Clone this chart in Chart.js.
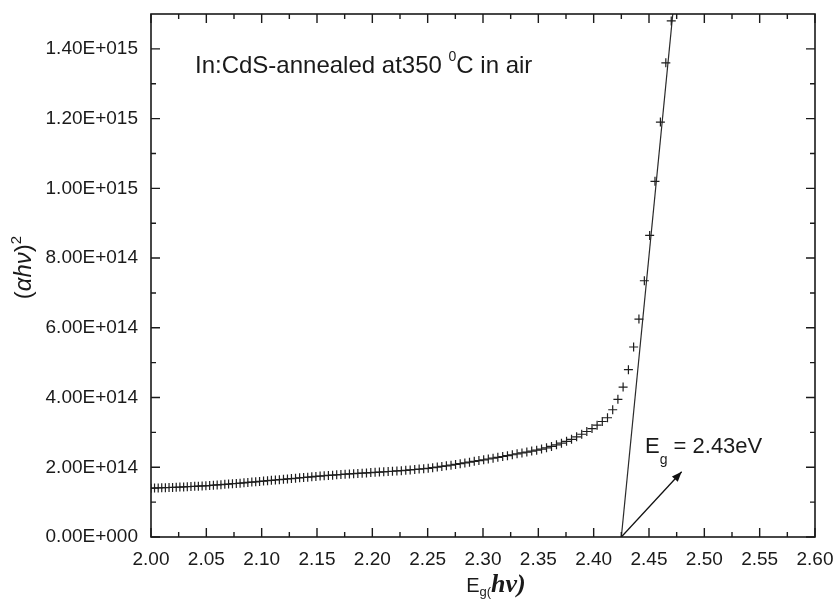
<!DOCTYPE html>
<html>
<head>
<meta charset="utf-8">
<script src="https://cdn.jsdelivr.net/npm/chart.js@4"></script>
<style>
  html, body { margin: 0; padding: 0; background: #fff; }
  canvas { display: block; }
</style>
</head>
<body>
<canvas id="myChart" width="837" height="599"></canvas>
<script>
// photon energy (eV)
var energy = [
  2.0000, 2.0032, 2.0065, 2.0097, 2.0130, 2.0163, 2.0195, 2.0228, 2.0261, 2.0295,
  2.0328, 2.0361, 2.0395, 2.0428, 2.0462, 2.0496, 2.0530, 2.0564, 2.0598, 2.0632,
  2.0667, 2.0701, 2.0736, 2.0771, 2.0805, 2.0840, 2.0875, 2.0911, 2.0946, 2.0981,
  2.1017, 2.1053, 2.1088, 2.1124, 2.1160, 2.1197, 2.1233, 2.1269, 2.1306, 2.1343,
  2.1379, 2.1416, 2.1453, 2.1490, 2.1528, 2.1565, 2.1603, 2.1641, 2.1678, 2.1716,
  2.1754, 2.1793, 2.1831, 2.1869, 2.1908, 2.1947, 2.1986, 2.2025, 2.2064, 2.2103,
  2.2143, 2.2182, 2.2222, 2.2262, 2.2302, 2.2342, 2.2383, 2.2423, 2.2464, 2.2505,
  2.2545, 2.2587, 2.2628, 2.2669, 2.2711, 2.2752, 2.2794, 2.2836, 2.2878, 2.2921,
  2.2963, 2.3006, 2.3048, 2.3091, 2.3134, 2.3178, 2.3221, 2.3265, 2.3308, 2.3352,
  2.3396, 2.3440, 2.3485, 2.3529, 2.3574, 2.3619, 2.3664, 2.3709, 2.3755, 2.3800,
  2.3846, 2.3892, 2.3938, 2.3985, 2.4031, 2.4078, 2.4125, 2.4172, 2.4219, 2.4266,
  2.4314, 2.4361, 2.4409, 2.4458, 2.4506, 2.4554, 2.4603, 2.4652, 2.4701
];

// (alpha h nu)^2, in units of 1E+014
var absorption = [
  1.400, 1.404, 1.408, 1.412, 1.416, 1.419, 1.423, 1.427, 1.432, 1.437,
  1.442, 1.448, 1.453, 1.458, 1.464, 1.469, 1.477, 1.485, 1.494, 1.502,
  1.510, 1.518, 1.529, 1.535, 1.545, 1.555, 1.565, 1.575, 1.583, 1.595,
  1.605, 1.615, 1.625, 1.635, 1.645, 1.655, 1.665, 1.675, 1.685, 1.696,
  1.706, 1.716, 1.727, 1.737, 1.747, 1.756, 1.765, 1.774, 1.783, 1.792,
  1.801, 1.808, 1.816, 1.824, 1.831, 1.839, 1.847, 1.855, 1.863, 1.870,
  1.878, 1.886, 1.894, 1.902, 1.913, 1.924, 1.936, 1.947, 1.958, 1.971,
  1.988, 2.006, 2.024, 2.042, 2.061, 2.081, 2.103, 2.125, 2.147, 2.169,
  2.191, 2.213, 2.237, 2.261, 2.285, 2.309, 2.333, 2.359, 2.385, 2.411,
  2.437, 2.464, 2.491, 2.523, 2.559, 2.598, 2.643, 2.691, 2.745, 2.800,
  2.874, 2.947, 3.026, 3.111, 3.208, 3.312, 3.420, 3.650, 3.950, 4.300,
  4.800, 5.450, 6.250, 7.350, 8.650, 10.20, 11.90, 13.60, 14.80
];

// linear fit of the absorption edge, extrapolated to zero
var fitX = [2.425, 2.4715];
var fitY = [0, 15];

// arrow pointing from the intercept to the label
var arrowX = [2.425, 2.4795];
var arrowY = [0, 1.87];

var xTickValues = [2.00, 2.05, 2.10, 2.15, 2.20, 2.25, 2.30, 2.35, 2.40, 2.45, 2.50, 2.55, 2.60];
var yTickValues = [0, 2, 4, 6, 8, 10, 12, 14];
var yUnit = 1e14;

var sans = '"Liberation Sans", Arial, sans-serif';
var serif = '"Liberation Serif", "Times New Roman", serif';

function toPoints(xs, ys) {
  return xs.map(function (x, i) {
    return { x: x, y: ys[i] };
  });
}

// 1.40E+015 style labels
function sciLabel(v) {
  var parts = (v * yUnit).toExponential(2).toUpperCase().split("E");
  var exp = parseInt(parts[1], 10);
  return parts[0] + "E" + (exp < 0 ? "-" : "+") + String(Math.abs(exp)).padStart(3, "0");
}

function drawPieces(ctx, x, y, pieces) {
  pieces.forEach(function (p) {
    ctx.font = p.font;
    ctx.fillText(p.text, x, y + (p.dy || 0));
    x += ctx.measureText(p.text).width;
  });
}

function piecesWidth(ctx, pieces) {
  return pieces.reduce(function (w, p) {
    ctx.font = p.font;
    return w + ctx.measureText(p.text).width;
  }, 0);
}

// box round the plot with inward ticks on all four sides
var framePlugin = {
  id: "frame",
  afterDraw: function (chart) {
    var ctx = chart.ctx;
    var a = chart.chartArea;
    var xs = chart.scales.x;
    var ys = chart.scales.y;
    ctx.save();
    ctx.strokeStyle = "#1a1a1a";
    ctx.lineWidth = 1.6;
    ctx.strokeRect(a.left, a.top, a.right - a.left, a.bottom - a.top);

    ctx.lineWidth = 1.4;
    ctx.beginPath();
    xTickValues.forEach(function (v, i) {
      var px = xs.getPixelForValue(v);
      ctx.moveTo(px, a.bottom); ctx.lineTo(px, a.bottom - 9);
      ctx.moveTo(px, a.top); ctx.lineTo(px, a.top + 9);
      if (i < xTickValues.length - 1) {
        var mx = xs.getPixelForValue((v + xTickValues[i + 1]) / 2);
        ctx.moveTo(mx, a.bottom); ctx.lineTo(mx, a.bottom - 5);
        ctx.moveTo(mx, a.top); ctx.lineTo(mx, a.top + 5);
      }
    });
    yTickValues.forEach(function (v) {
      var py = ys.getPixelForValue(v);
      ctx.moveTo(a.left, py); ctx.lineTo(a.left + 9, py);
      ctx.moveTo(a.right, py); ctx.lineTo(a.right - 9, py);
      var my = ys.getPixelForValue(v + 1);
      if (my > a.top + 2) {
        ctx.moveTo(a.left, my); ctx.lineTo(a.left + 5, my);
        ctx.moveTo(a.right, my); ctx.lineTo(a.right - 5, my);
      }
    });
    ctx.stroke();
    ctx.restore();
  }
};

// arrowhead at the end of the arrow dataset
var arrowPlugin = {
  id: "arrowHead",
  afterDatasetsDraw: function (chart) {
    var pts = chart.getDatasetMeta(2).data;
    var p0 = pts[0], p1 = pts[1];
    var ang = Math.atan2(p1.y - p0.y, p1.x - p0.x);
    var ctx = chart.ctx;
    ctx.save();
    ctx.translate(p1.x, p1.y);
    ctx.rotate(ang);
    ctx.fillStyle = "#111";
    ctx.beginPath();
    ctx.moveTo(0, 0);
    ctx.lineTo(-10, -4);
    ctx.lineTo(-10, 4);
    ctx.closePath();
    ctx.fill();
    ctx.restore();
  }
};

// sample note, gap label and axis titles
var textPlugin = {
  id: "texts",
  afterDraw: function (chart) {
    var ctx = chart.ctx;
    var a = chart.chartArea;
    ctx.save();
    ctx.fillStyle = "#1a1a1a";
    ctx.textBaseline = "alphabetic";
    ctx.textAlign = "left";

    drawPieces(ctx, a.left + 44, a.top + 59, [
      { text: "In:CdS-annealed at350 ", font: "24px " + sans },
      { text: "0", font: "14px " + sans, dy: -12 },
      { text: "C in air", font: "24px " + sans }
    ]);

    drawPieces(ctx, 645, 453, [
      { text: "E", font: "22px " + sans },
      { text: "g", font: "14px " + sans, dy: 11 },
      { text: " = 2.43eV", font: "22px " + sans }
    ]);

    // x title
    var xt = [
      { text: "E", font: "20px " + sans },
      { text: "g(", font: "13px " + sans, dy: 4 },
      { text: "hv)", font: "italic bold 26px " + serif }
    ];
    var cx = (a.left + a.right) / 2 + 13;
    drawPieces(ctx, cx - piecesWidth(ctx, xt) / 2, 592, xt);

    // y title
    var yt = [
      { text: "(", font: "24px " + sans },
      { text: "\u03b1h\u03bd", font: "italic 24px " + sans },
      { text: ")", font: "24px " + sans },
      { text: "2", font: "15px " + sans, dy: -10 }
    ];
    ctx.translate(31, (a.top + a.bottom) / 2 - 8);
    ctx.rotate(-Math.PI / 2);
    drawPieces(ctx, -piecesWidth(ctx, yt) / 2, 0, yt);
    ctx.restore();
  }
};

window.onload = function () {
  var ctx = document.getElementById("myChart").getContext("2d");
  var myChart = new Chart(ctx, {
    type: "scatter",
    data: {
      datasets: [
        {
          label: "In:CdS",
          data: toPoints(energy, absorption),
          pointStyle: "cross",
          pointRadius: 4.5,
          borderColor: "#1e1e1e",
          pointBorderWidth: 1.2,
          showLine: false
        },
        {
          label: "fit",
          data: toPoints(fitX, fitY),
          showLine: true,
          pointRadius: 0,
          borderColor: "#2a2a2a",
          borderWidth: 1.2
        },
        {
          label: "arrow",
          data: toPoints(arrowX, arrowY),
          showLine: true,
          pointRadius: 0,
          borderColor: "#111",
          borderWidth: 1.3
        }
      ]
    },
    options: {
      responsive: false,
      animation: false,
      events: [],
      layout: { padding: { top: 14, right: 22, left: 0, bottom: 0 } },
      plugins: {
        legend: { display: false },
        tooltip: { enabled: false }
      },
      scales: {
        x: {
          type: "linear",
          min: 2.0,
          max: 2.6,
          grid: { display: false, drawTicks: false },
          border: { display: false },
          afterBuildTicks: function (s) {
            s.ticks = xTickValues.map(function (v) { return { value: v }; });
          },
          afterFit: function (s) {
            s.height = 62;
            s.paddingLeft = 0;
            s.paddingRight = 0;
          },
          ticks: {
            autoSkip: false,
            maxRotation: 0,
            padding: 11,
            color: "#1a1a1a",
            font: { family: sans, size: 19 },
            callback: function (v) { return v.toFixed(2); }
          }
        },
        y: {
          type: "linear",
          min: 0,
          max: 15,
          grid: { display: false, drawTicks: false },
          border: { display: false },
          afterBuildTicks: function (s) {
            s.ticks = yTickValues.map(function (v) { return { value: v }; });
          },
          afterFit: function (s) {
            s.width = 151;
            s.paddingTop = 0;
            s.paddingBottom = 0;
          },
          ticks: {
            autoSkip: false,
            padding: 13,
            color: "#1a1a1a",
            font: { family: sans, size: 19 },
            callback: function (v) { return sciLabel(v); }
          }
        }
      }
    },
    plugins: [arrowPlugin, framePlugin, textPlugin]
  });
};
</script>
</body>
</html>
